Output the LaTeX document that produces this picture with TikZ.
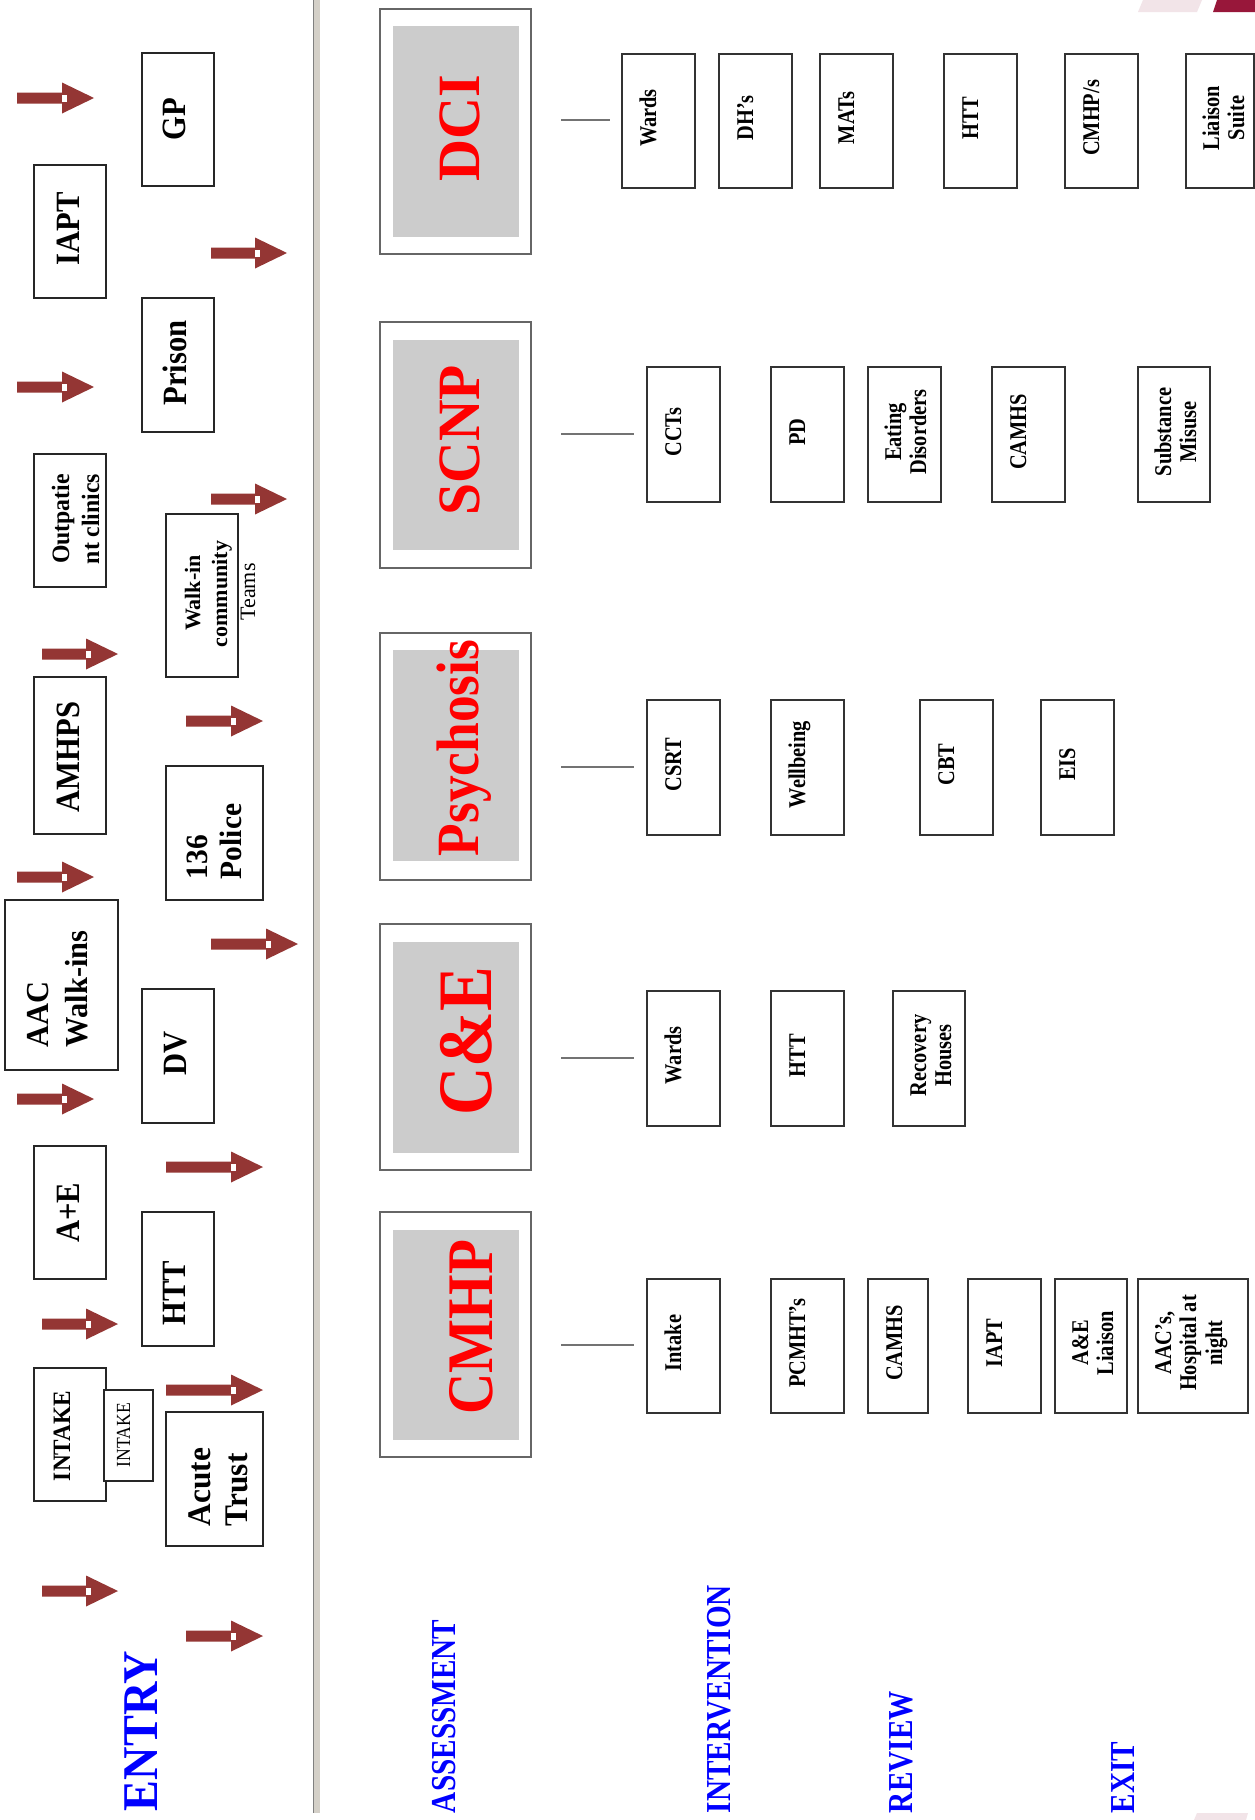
\documentclass[tikz,border=0pt]{standalone}
\usepackage{fontspec}
\setmainfont{Liberation Serif}
\usepackage{graphicx}
\definecolor{arrowred}{RGB}{148,54,52}
\definecolor{divgray}{RGB}{212,208,200}
\definecolor{pinkdeco}{RGB}{242,228,232}
\definecolor{darkdeco}{RGB}{152,23,58}
\definecolor{innergray}{RGB}{204,204,204}
\newcommand\hsq[2]{\scalebox{#1}[1]{#2}}
\newcommand\bx[6]{\node[#1, minimum width={(#5)-(#3)}, minimum height={(#6)-(#4)}] (#2) at ({((#3)+(#5))/2},{((#4)+(#6))/2}) {};}
\newcommand\barrow[3]{%
  \fill[arrowred] (#1,#3-5.5) -- (#2-32,#3-5.5) -- (#2-32,#3-15.5) -- (#2,#3) -- (#2-32,#3+15.5) -- (#2-32,#3+5.5) -- (#1,#3+5.5) -- cycle;
  \fill[white] (#2-32,#3-3.5) rectangle (#2-27,#3+3.5);}
\tikzset{
  ebox/.style={draw=black!85, line width=1.1pt, fill=white, inner sep=0pt, outer sep=0pt},
  sbox/.style={draw=black!80, line width=1.2pt, fill=white, inner sep=0pt, outer sep=0pt},
  obox/.style={draw=black!60, line width=1.3pt, fill=white, inner sep=0pt, outer sep=0pt},
  ibox/.style={fill=innergray, draw=none, inner sep=0pt, outer sep=0pt},
  rt/.style={rotate=90, inner sep=0pt, outer sep=0pt, anchor=base},
  rtl/.style={rotate=90, inner sep=0pt, outer sep=0pt, anchor=base west},
  efont/.style={font=\fontsize{34}{40}\selectfont\bfseries},
  sfont/.style={font=\fontsize{24}{26}\selectfont\bfseries},
  redfont/.style={text=red, font=\fontsize{#1}{#1}\selectfont\bfseries},
  stage/.style={text=blue, font=\fontsize{35}{40}\selectfont\bfseries},
  link/.style={draw=black!55, line width=1.3pt}
}
\begin{document}
\begin{tikzpicture}[x=1pt,y=-1pt]
\useasboundingbox (0,0) rectangle (1255,1820);
\fill[white] (0,0) rectangle (1255,1820);

% decorations
\fill[pinkdeco] (1143,0) -- (1202,0) -- (1197,12) -- (1138,12) -- cycle;
\fill[darkdeco] (1217,0) -- (1255,0) -- (1255,12) -- (1213,12) -- cycle;
\fill[pinkdeco] (1197,1813) -- (1248,1813) -- (1246,1820) -- (1194,1820) -- cycle;

% divider
\fill[divgray] (313,0) rectangle (320,1813);
\draw[black!50, line width=1pt] (313.5,0) -- (313.5,1813);

% entry arrows
\barrow{17}{94}{98}
\barrow{211}{287}{253}
\barrow{17}{94}{387}
\barrow{211}{287}{499}
\barrow{42}{118}{654}
\barrow{186}{263}{721}
\barrow{17}{94}{877}
\barrow{211}{298}{944}
\barrow{17}{94}{1099}
\barrow{166}{263}{1167}
\barrow{42}{118}{1324}
\barrow{166}{263}{1390}
\barrow{42}{118}{1591}
\barrow{186}{263}{1636}

% entry boxes
\bx{ebox}{gp}{142}{53}{214}{186}
\bx{ebox}{iapt}{34}{165}{106}{298}
\bx{ebox}{prison}{142}{298}{214}{432}
\bx{ebox}{outp}{34}{454}{106}{587}
\bx{ebox}{walkin}{166}{514}{238}{677}
\bx{ebox}{amhps}{34}{677}{106}{834}
\bx{ebox}{police}{166}{766}{263}{900}
\bx{ebox}{aac}{5}{900}{118}{1070}
\bx{ebox}{dv}{142}{989}{214}{1123}
\bx{ebox}{ae}{34}{1146}{106}{1279}
\bx{ebox}{htt}{142}{1212}{214}{1346}
\bx{ebox}{intake}{34}{1368}{106}{1501}
\bx{ebox}{intakes}{104}{1390}{153}{1481}
\bx{ebox}{acute}{166}{1412}{263}{1546}

% entry texts
\node[rt, efont] (tgp) at (185,119) {\hsq{.9}{GP}};
\node[rt, efont] (tiapt) at (79,229) {\hsq{.9}{IAPT}};
\node[rt, efont] (tprison) at (186,363) {\hsq{.9}{Prison}};
\node[rt, font=\fontsize{25}{28}\selectfont\bfseries] (toutp1) at (69,519) {\hsq{.95}{Outpatie}};
\node[rt, font=\fontsize{25}{28}\selectfont\bfseries] (toutp2) at (99,519) {\hsq{.95}{nt clinics}};
\node[rt, font=\fontsize{22}{24}\selectfont\bfseries] (twalk1) at (200,593) {Walk-in};
\node[rt, font=\fontsize{22}{24}\selectfont\bfseries] (twalk2) at (227,594) {community};
\node[rt, font=\fontsize{22}{24}\selectfont] (twalk3) at (255,592) {Teams};
\node[rt, efont] (tamhps) at (79,757) {\hsq{.9}{AMHPS}};
\node[rtl, font=\fontsize{31}{34}\selectfont\bfseries] (tpol1) at (207,879) {\hsq{.95}{136}};
\node[rtl, font=\fontsize{31}{34}\selectfont\bfseries] (tpol2) at (241,879) {\hsq{.95}{Police}};
\node[rtl, font=\fontsize{32}{36}\selectfont\bfseries] (taac1) at (48,1047) {\hsq{.95}{AAC}};
\node[rtl, font=\fontsize{32}{36}\selectfont\bfseries] (taac2) at (87,1047) {\hsq{.95}{Walk-ins}};
\node[rt, efont] (tdv) at (186,1053) {\hsq{.9}{DV}};
\node[rt, efont] (tae) at (79,1213) {\hsq{.9}{A+E}};
\node[rt, efont] (thtt) at (185,1293) {\hsq{.9}{HTT}};
\node[rt, font=\fontsize{25}{28}\selectfont\bfseries] (tintake) at (70,1436) {\hsq{.93}{INTAKE}};
\node[rt, font=\fontsize{20}{24}\selectfont] (tintakes) at (130,1435) {\hsq{.88}{INTAKE}};
\node[rtl, font=\fontsize{33}{36}\selectfont\bfseries] (tacute1) at (210,1526) {\hsq{.95}{Acute}};
\node[rtl, font=\fontsize{33}{36}\selectfont\bfseries] (tacute2) at (247,1526) {\hsq{.95}{Trust}};

% stage labels
\node[rtl, font=\fontsize{50}{54}\selectfont\bfseries, text=blue] (tentry) at (157,1811) {\hsq{.926}{ENTRY}};
\node[rtl, stage] (tassess) at (455,1813) {\hsq{.835}{ASSESSMENT}};
\node[rtl, stage] (tinterv) at (730,1813) {\hsq{.835}{INTERVENTION}};
\node[rtl, stage] (treview) at (912,1813) {\hsq{.835}{REVIEW}};
\node[rtl, stage] (texit) at (1134,1813) {\hsq{.835}{EXIT}};

% big boxes
\bx{obox}{dci}{380}{9}{531}{254}
\bx{ibox}{dcii}{393}{26}{519}{237}
\bx{obox}{scnp}{380}{322}{531}{568}
\bx{ibox}{scnpi}{393}{340}{519}{550}
\bx{obox}{psy}{380}{633}{531}{880}
\bx{ibox}{psyi}{393}{650}{519}{861}
\bx{obox}{ce}{380}{924}{531}{1170}
\bx{ibox}{cei}{393}{942}{519}{1153}
\bx{obox}{cmhp}{380}{1212}{531}{1457}
\bx{ibox}{cmhpi}{393}{1230}{519}{1440}

\node[rt, redfont=60] (tdci) at (479,128) {\hsq{.97}{DCI}};
\node[rt, redfont=60] (tscnp) at (479,440) {\hsq{.96}{SCNP}};
\node[rt, redfont=60] (tpsy) at (478,748) {\hsq{.89}{Psychosis}};
\node[rt, redfont=77] (tce) at (491,1041) {\hsq{.87}{C\&E}};
\node[rt, redfont=65] (tcmhp) at (492,1327) {\hsq{.88}{CMHP}};

% connector lines
\coordinate (l1a) at (561,120); \coordinate (l1b) at (610,120);
\coordinate (l2a) at (561,434); \coordinate (l2b) at (634,434);
\coordinate (l3a) at (561,767); \coordinate (l3b) at (634,767);
\coordinate (l4a) at (561,1058); \coordinate (l4b) at (634,1058);
\coordinate (l5a) at (561,1345); \coordinate (l5b) at (634,1345);
\draw[link] (l1a) -- (l1b);
\draw[link] (l2a) -- (l2b);
\draw[link] (l3a) -- (l3b);
\draw[link] (l4a) -- (l4b);
\draw[link] (l5a) -- (l5b);

% DCI row
\bx{sbox}{d1}{622}{54}{695}{188}
\bx{sbox}{d2}{719}{54}{792}{188}
\bx{sbox}{d3}{820}{54}{893}{188}
\bx{sbox}{d4}{944}{54}{1017}{188}
\bx{sbox}{d5}{1065}{54}{1138}{188}
\bx{sbox}{d6}{1186}{54}{1254}{188}
\node[rt, sfont] (td1) at (656,118) {\hsq{.85}{Wards}};
\node[rt, sfont] (td2) at (753,118) {\hsq{.85}{DH’s}};
\node[rt, sfont] (td3) at (854,118) {\hsq{.85}{MATs}};
\node[rt, sfont] (td4) at (978,118) {\hsq{.85}{HTT}};
\node[rt, sfont] (td5) at (1099,118) {\hsq{.85}{CMHP/s}};
\node[rt, sfont] (td6a) at (1219,118) {\hsq{.85}{Liaison}};
\node[rt, sfont] (td6b) at (1244,118) {\hsq{.85}{Suite}};

% SCNP row
\bx{sbox}{s1}{647}{367}{720}{502}
\bx{sbox}{s2}{771}{367}{844}{502}
\bx{sbox}{s3}{868}{367}{941}{502}
\bx{sbox}{s4}{992}{367}{1065}{502}
\bx{sbox}{s5}{1138}{367}{1210}{502}
\node[rt, sfont] (ts1) at (681,432) {\hsq{.85}{CCTs}};
\node[rt, sfont] (ts2) at (805,432) {\hsq{.85}{PD}};
\node[rt, sfont] (ts3a) at (901,432) {\hsq{.85}{Eating}};
\node[rt, sfont] (ts3b) at (926,432) {\hsq{.85}{Disorders}};
\node[rt, sfont] (ts4) at (1026,432) {\hsq{.85}{CAMHS}};
\node[rt, sfont] (ts5a) at (1171,432) {\hsq{.85}{Substance}};
\node[rt, sfont] (ts5b) at (1196,432) {\hsq{.85}{Misuse}};

% Psychosis row
\bx{sbox}{p1}{647}{700}{720}{835}
\bx{sbox}{p2}{771}{700}{844}{835}
\bx{sbox}{p3}{920}{700}{993}{835}
\bx{sbox}{p4}{1041}{700}{1114}{835}
\node[rt, sfont] (tp1) at (681,764.5) {\hsq{.85}{CSRT}};
\node[rt, sfont] (tp2) at (805,764.5) {\hsq{.85}{Wellbeing}};
\node[rt, sfont] (tp3) at (954,764.5) {\hsq{.85}{CBT}};
\node[rt, sfont] (tp4) at (1075,764.5) {\hsq{.85}{EIS}};

% C&E row
\bx{sbox}{c1}{647}{991}{720}{1126}
\bx{sbox}{c2}{771}{991}{844}{1126}
\bx{sbox}{c3}{893}{991}{965}{1126}
\node[rt, sfont] (tc1) at (681,1055.5) {\hsq{.85}{Wards}};
\node[rt, sfont] (tc2) at (805,1055.5) {\hsq{.85}{HTT}};
\node[rt, sfont] (tc3a) at (926,1055.5) {\hsq{.85}{Recovery}};
\node[rt, sfont] (tc3b) at (951,1055.5) {\hsq{.85}{Houses}};

% CMHP row
\bx{sbox}{m1}{647}{1279}{720}{1413}
\bx{sbox}{m2}{771}{1279}{844}{1413}
\bx{sbox}{m3}{868}{1279}{928}{1413}
\bx{sbox}{m4}{968}{1279}{1041}{1413}
\bx{sbox}{m5}{1055}{1279}{1127}{1413}
\bx{sbox}{m6}{1138}{1279}{1248}{1413}
\node[rt, sfont] (tm1) at (681,1343) {\hsq{.85}{Intake}};
\node[rt, sfont] (tm2) at (805,1343) {\hsq{.85}{PCMHT’s}};
\node[rt, sfont] (tm3) at (902,1343) {\hsq{.85}{CAMHS}};
\node[rt, sfont] (tm4) at (1002,1343) {\hsq{.85}{IAPT}};
\node[rt, sfont] (tm5a) at (1088,1343) {\hsq{.85}{A\&E}};
\node[rt, sfont] (tm5b) at (1113,1343) {\hsq{.85}{Liaison}};
\node[rt, sfont] (tm6a) at (1171,1343) {\hsq{.85}{AAC’s,}};
\node[rt, sfont] (tm6b) at (1196,1343) {\hsq{.85}{Hospital at}};
\node[rt, sfont] (tm6c) at (1222,1343) {\hsq{.85}{night}};
\end{tikzpicture}
\end{document}
